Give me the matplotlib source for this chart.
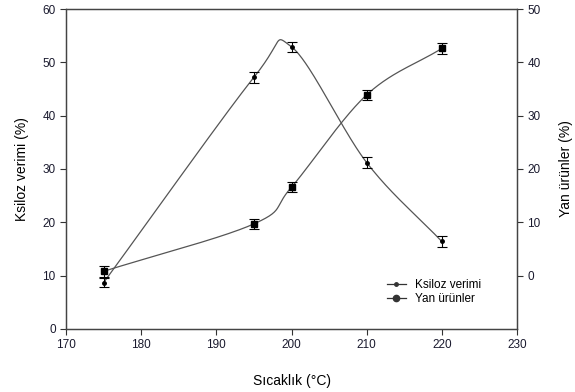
import numpy as np
import matplotlib.pyplot as plt

plt.rcParams['font.family'] = ['Liberation Sans', 'DejaVu Sans']

temp = [175, 195, 200, 210, 220]
ksiloz = [8.7, 47.2, 52.9, 31.2, 16.4]
ksiloz_err = [0.9, 1.0, 1.0, 1.0, 1.0]
yan = [0.8, 9.7, 16.6, 33.9, 42.6]
yan_err = [1.0, 1.0, 1.0, 1.0, 1.0]


def smooth(x, y, n=60):
    # Catmull-Rom curve through the points (what the plotting program draws as "spline")
    P = np.column_stack([x, y]).astype(float)
    P = np.vstack([2 * P[0] - P[1], P, 2 * P[-1] - P[-2]])
    t = np.linspace(0, 1, n)[:, None]
    pts = []
    for i in range(1, len(P) - 2):
        p0, p1, p2, p3 = P[i - 1], P[i], P[i + 1], P[i + 2]
        c1 = p1 + (p2 - p0) / 6
        c2 = p2 - (p3 - p1) / 6
        seg = ((1 - t) ** 3) * p1 + 3 * ((1 - t) ** 2) * t * c1 + 3 * (1 - t) * t ** 2 * c2 + t ** 3 * p2
        pts.append(seg if i == 1 else seg[1:])
    pts = np.vstack(pts)
    return pts[:, 0], pts[:, 1]


fig = plt.figure(figsize=(5.75, 3.92), dpi=100)
ax = fig.add_axes([0.115, 0.161, 0.784, 0.816])
ax2 = ax.twinx()

lc = '#555555'
kx, ky = smooth(temp, ksiloz)
ax.plot(kx, ky, color=lc, lw=0.9)
ax.errorbar(temp, ksiloz, yerr=ksiloz_err, fmt='o', ms=2.5, color='black', ecolor='black',
            elinewidth=0.8, capsize=3.5, capthick=0.8)
yx, yy = smooth(temp, yan)
ax2.plot(yx, yy, color=lc, lw=0.9)
ax2.errorbar(temp, yan, yerr=yan_err, fmt='s', ms=3.8, color='black', ecolor='black',
             elinewidth=0.8, capsize=3.5, capthick=0.8)

ax.set_xlim(170, 230)
ax.set_ylim(0, 60)
ax2.set_ylim(-10, 50)
ax.set_xticks(range(170, 231, 10))
ax.set_yticks(range(0, 61, 10))
ax2.set_yticks(range(0, 51, 10))

for a in (ax, ax2):
    a.tick_params(direction='out', length=4, width=0.8, labelsize=8.5, colors='#333333',
                  labelcolor='#1a1a2e')
    for s in a.spines.values():
        s.set_color('#444444'); s.set_linewidth(0.9)

ax.set_xlabel('Sıcaklık (°C)', fontsize=10, labelpad=16)
ax.set_ylabel('Ksiloz verimi (%)', fontsize=10, labelpad=10)
ax2.set_ylabel('Yan ürünler (%)', fontsize=10, labelpad=13)

h1, = ax.plot([], [], color='#333333', lw=0.9, marker='o', ms=2.5)
h2, = ax.plot([], [], color='#333333', lw=0.9, marker='o', ms=4.5)
ax2.legend([h1, h2], ['Ksiloz verimi', 'Yan ürünler'], loc='lower right', frameon=False,
           fontsize=8.5, handlelength=1.6, handletextpad=0.8, labelspacing=0.2,
           bbox_to_anchor=(0.945, 0.04))

fig.savefig('out.png', dpi=100)
